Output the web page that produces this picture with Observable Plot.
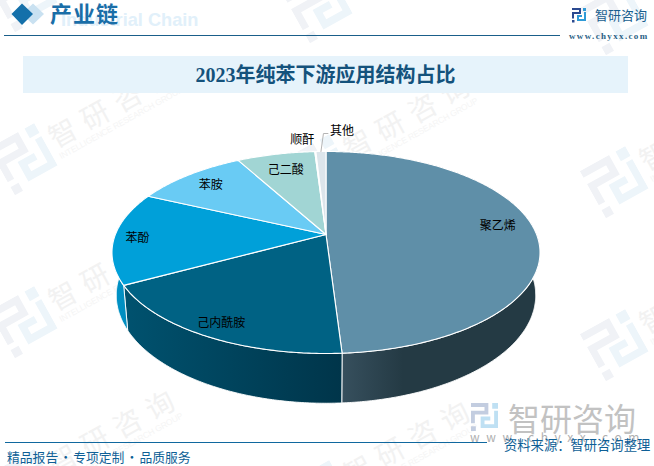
<!DOCTYPE html>
<html lang="zh">
<head>
<meta charset="utf-8">
<script src="https://cdn.jsdelivr.net/npm/d3@7"></script>
<script src="https://cdn.jsdelivr.net/npm/@observablehq/plot@0.6"></script>
<style>
html,body{margin:0;padding:0;background:#fff}
#page{position:relative;width:654px;height:466px;overflow:hidden;font-family:"Noto Sans CJK SC",sans-serif}
#page>*{position:absolute}
#wm{left:0;top:0}
#chart{left:0;top:93px}
.t{white-space:nowrap;line-height:1}
</style>
</head>
<body>
<div id="page">
  <svg id="wm" width="654" height="466">
    <defs>
      <symbol id="logo" viewBox="0 0 14 15">
        <path class="a" d="M0 0H9V6H2V10.5H0V4H7V2H0ZM0 12H2.5V14.5H0Z"/>
        <path class="b" d="M11 0H14V3H11ZM12 4H14V13H5V7H10V9H7V11H12Z"/>
      </symbol>
    </defs>
  </svg>
  <div style="left:4px;top:35px;width:556px;height:1px;background:#1a5f8a"></div>
  <svg style="left:8px;top:0" width="40" height="30">
    <path d="M25 3.5L36 14L25 24.5L14 14Z" fill="#c9e1f1"/>
    <path d="M14 3.5L25 14L14 25L3.5 14Z" fill="#1470aa"/>
  </svg>
  <div class="t" style="left:61px;top:10px;font:bold 18.2px 'Liberation Sans';color:#e1f0fa">Industrial Chain</div>
  <div class="t" style="left:50px;top:1px;font-size:22px;font-weight:700;color:#1a6ea8;letter-spacing:1px">产业链</div>
  <svg style="left:572px;top:8px" width="14" height="15"><g style="--a:#2b4a90;--b:#2f9ad6"><use href="#logo" width="14" height="15"/></g></svg>
  <div class="t" style="left:595px;top:8px;font-size:13px;color:#1a5f8f">智研咨询</div>
  <div class="t" style="left:569px;top:31px;font:bold 9px 'Liberation Serif';letter-spacing:1.35px;color:#2a5f85">www.chyxx.com</div>

  <div style="left:23px;top:56px;width:605px;height:37px;background:#e6f3fb"></div>
  <div class="t" id="title" style="left:23px;top:65px;width:605px;text-align:center;font-family:'Liberation Serif','Noto Sans CJK SC';font-size:20px;font-weight:700;color:#14527c">2023年纯苯下游应用结构占比</div>

  <div id="chart"></div>

  <svg style="left:471px;top:403px" width="27" height="29"><g style="--a:#c3cde0;--b:#bfe0f3"><use href="#logo" width="27" height="29"/></g></svg>
  <div class="t" style="left:508px;top:401px;font-size:32px;color:#c2c2c2">智研咨询</div>
  <div class="t" style="left:470px;top:431px;font-size:12px;letter-spacing:6.6px;color:#b0b0b0">www.chyxx.com</div>
  <div style="left:5px;top:442px;width:482px;height:1px;background:#10689f"></div>
  <div class="t" style="left:7px;top:451px;font-size:12.8px;word-spacing:-1.75px;color:#0e5f96;white-space:pre">精品报告 · 专项定制 · 品质服务</div>
  <div class="t" style="left:504px;top:438px;font-size:13.3px;color:#0e5f96">资料来源：智研咨询整理</div>
</div>

<script>
// Data (share of downstream use, %)
const categories = ["聚乙烯", "己内酰胺", "苯酚", "苯胺", "己二酸", "顺酐", "其他"];
const shares = [49.0, 18.1, 14.8, 10.1, 7.0, 0.1, 0.9];

// Styling and layout kept apart from the data
const topColors = ["#5f8fa8", "#006284", "#00a0d9", "#69cbf4", "#a1d5d4", "#dce5eb", "#dce5eb"];
const wallStops = [
  [[0.07, "#37505e"], [0.36, "#243a44"], [1, "#243a44"]],
  [[0, "#00526f"], [1, "#00354a"]],
  [[0, "#0094c8"], [1, "#0080b0"]],
  [[0, "#5bb4da"], [1, "#5bb4da"]],
  [[0, "#8dbcbc"], [1, "#8dbcbc"]],
  [[0, "#c4ccd2"], [1, "#c4ccd2"]],
  [[0, "#c4ccd2"], [1, "#c4ccd2"]]
];
const labelRadius = [0.82, 0.9, 0.9, 0.8, 0.8, 1, 1];
const labelShift = [[0, -6], [2, -1], [2, 1], [-3, -1], [1, 2], [-13, -11], [21, -20]];

// Perspective disc: parameters of the top face and the base
const top3d = {cx: 325.5, cy: 234, R: 210.6, S: 97.8, p: 0.178};
const base3d = {cx: 325.5, cy: 275.5, R: 206.4, S: 104.6, p: 0.178};
function project(face, theta, f = 1) {
  const u = f * Math.sin(theta), v = f * Math.cos(theta), w = 1 + face.p * v;
  return {x: face.cx + face.R * u / w, y: face.cy - face.S * v / w};
}

const arcs = d3.pie().sort(null).value(d => d)(shares);
const arcPoints = (face, a) => {
  const n = Math.max(2, Math.ceil((a.endAngle - a.startAngle) / 0.01));
  return d3.range(n + 1).map(i => project(face, a.startAngle + (a.endAngle - a.startAngle) * i / n));
};
const wedges = arcs.map(a => {
  const c = project(top3d, 0, 0);
  return [c, ...arcPoints(top3d, a), c];
});
const walls = arcs.map(a => {
  const t = arcPoints(top3d, a), b = arcPoints(base3d, a).reverse();
  return [...t, ...b, t[0]];
});
const labels = arcs.map((a, i) => {
  const mid = (a.startAngle + a.endAngle) / 2;
  const pos = project(top3d, mid, labelRadius[i]);
  return {name: categories[i], x: pos.x + labelShift[i][0], y: pos.y + labelShift[i][1]};
});
const leaderFrom = project(top3d, (arcs[6].startAngle + arcs[6].endAngle) / 2);
const leader = [leaderFrom, {x: leaderFrom.x + 2.5, y: leaderFrom.y - 18}, {x: leaderFrom.x + 7, y: leaderFrom.y - 18}];

const gradients = () => {
  const defs = d3.create("svg:defs");
  wallStops.forEach((stops, i) => {
    const g = defs.append("linearGradient").attr("id", "wall" + i);
    stops.forEach(([o, c]) => g.append("stop").attr("offset", o).attr("stop-color", c));
  });
  return defs.node();
};

const plot = Plot.plot({
  width: 654, height: 345,
  margin: 0,
  style: {background: "transparent", fontFamily: "'Noto Sans CJK SC',sans-serif"},
  x: {domain: [0, 654], range: [0, 654], axis: null},
  y: {domain: [93, 438], range: [0, 345], axis: null},
  marks: [
    gradients,
    ...walls.map((w, i) => Plot.line(w, {x: "x", y: "y", fill: `url(#wall${i})`, stroke: "#fff", strokeWidth: 0.9})),
    ...wedges.map((w, i) => Plot.line(w, {x: "x", y: "y", fill: topColors[i], stroke: "#fff", strokeWidth: 1.1})),
    Plot.line(leader, {x: "x", y: "y", stroke: "#b5b5b5", strokeWidth: 1}),
    Plot.text(labels, {x: "x", y: "y", text: "name", fontSize: 12, fill: "#000"})
  ]
});
document.getElementById("chart").append(plot);

// Background watermark tiles
const wm = d3.select("#wm");
const style = document.createElement("style");
style.textContent = ".a{fill:var(--a,#f0f2f6)}.b{fill:var(--b,#edf5fa)}";
document.head.append(style);
[[25, 0], [320, 11], [616, 23]].forEach(([x, off]) => {
  [-3, 160, 323, 486].forEach(y => {
    const g = wm.append("g").attr("transform", `translate(${x},${y + off}) rotate(-29)`);
    g.append("use").attr("href", "#logo").attr("x", -26).attr("y", -28).attr("width", 52).attr("height", 56);
    if (y < 0) return; // this row's wordmark lies above the page
    g.append("text").attr("x", 32).attr("y", 5).attr("font-size", 28).attr("letter-spacing", 9)
      .attr("fill", "#f2f2f2").text("智研咨询");
    g.append("text").attr("x", 32).attr("y", 17).attr("font-size", 8.5).attr("textLength", 140)
      .attr("font-family", "Liberation Sans").attr("fill", "#f5f5f5").text("INTELLIGENCE RESEARCH GROUP");
  });
});
</script>
</body>
</html>
